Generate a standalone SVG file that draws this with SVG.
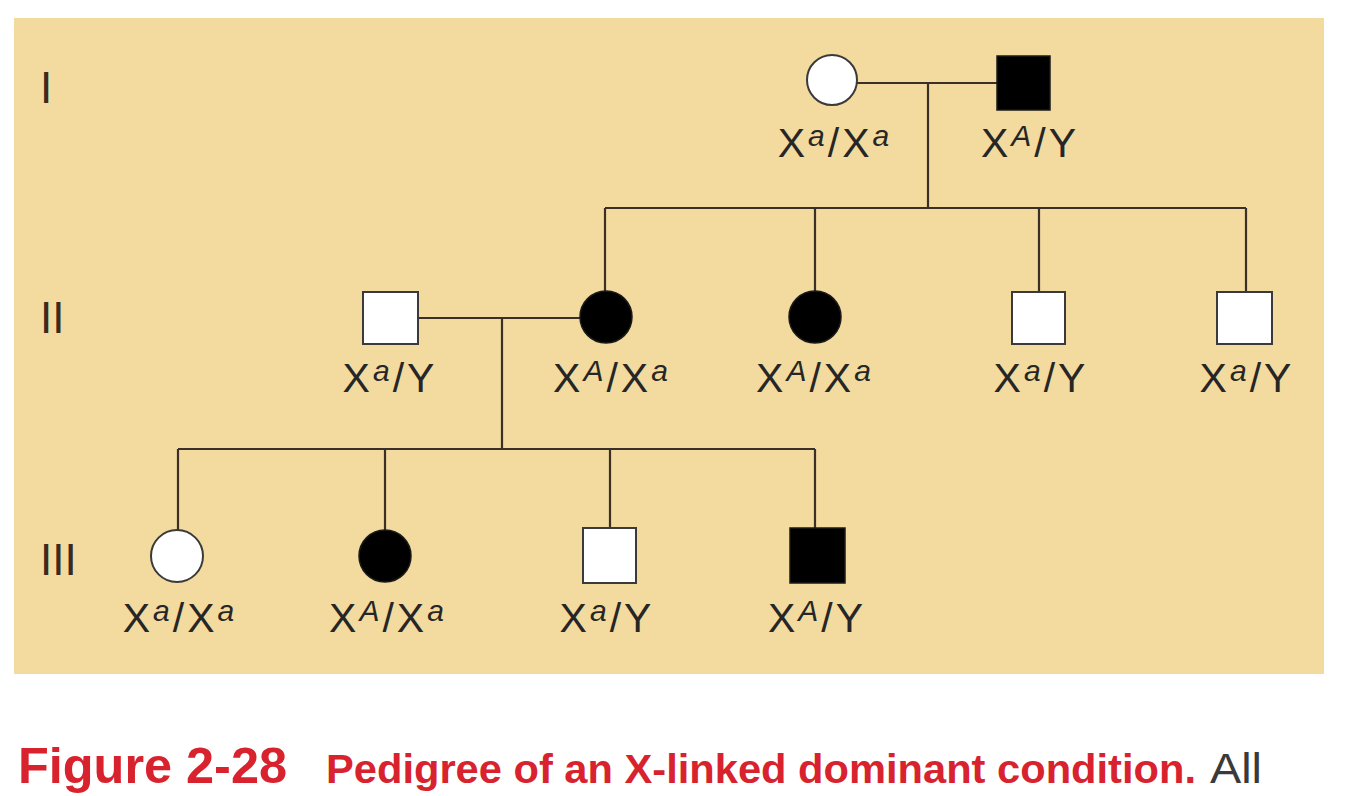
<svg xmlns="http://www.w3.org/2000/svg" width="1358" height="796" viewBox="0 0 1358 796">
<style>
.ln{stroke:#3a3028;stroke-width:2.2;fill:none}
.fo{fill:#ffffff;stroke:#3a3a3a;stroke-width:2}
.fa{fill:#000000;stroke:#1a1a1a;stroke-width:1.5}
.lb{font-family:"Liberation Sans",Arial,sans-serif;font-size:41px;fill:#262626;letter-spacing:3px;text-anchor:middle}
.sp{font-size:30px;font-style:italic}
.gen{font-family:"Liberation Sans",Arial,sans-serif;font-size:44px;fill:#3b2a20}
.cap{font-family:"Liberation Sans",Arial,sans-serif;font-weight:bold;fill:#d8232f}
.all{font-family:"Liberation Sans",Arial,sans-serif;fill:#3a3a3a}
</style>
<rect x="0" y="0" width="1358" height="796" fill="#ffffff"/>
<rect x="14" y="18" width="1310" height="656" fill="#f3da9e"/>

<g id="generations">
<text class="gen" x="40" y="103">I</text>
<text class="gen" x="40" y="333">II</text>
<text class="gen" x="40" y="575">III</text>
</g>

<g id="connectors">
<line class="ln" x1="857" y1="83" x2="997" y2="83"/>
<line class="ln" x1="928" y1="83" x2="928" y2="208"/>
<line class="ln" x1="605" y1="208" x2="1246" y2="208"/>
<line class="ln" x1="605" y1="208" x2="605" y2="291"/>
<line class="ln" x1="815" y1="208" x2="815" y2="291"/>
<line class="ln" x1="1039" y1="208" x2="1039" y2="292"/>
<line class="ln" x1="1246" y1="208" x2="1246" y2="292"/>
<line class="ln" x1="418" y1="318" x2="580" y2="318"/>
<line class="ln" x1="502" y1="318" x2="502" y2="449"/>
<line class="ln" x1="178" y1="449" x2="815" y2="449"/>
<line class="ln" x1="178" y1="449" x2="178" y2="530"/>
<line class="ln" x1="385" y1="449" x2="385" y2="530"/>
<line class="ln" x1="610" y1="449" x2="610" y2="528"/>
<line class="ln" x1="815" y1="449" x2="815" y2="528"/>
</g>

<g id="I-1">
<circle class="fo" cx="832" cy="80" r="25"/>
<text class="lb" x="835" y="157">X<tspan class="sp" dy="-11">a</tspan><tspan dy="11">/X</tspan><tspan class="sp" dy="-11">a</tspan></text>
</g>
<g id="I-2">
<rect class="fa" x="997" y="56" width="53" height="54"/>
<text class="lb" x="1030" y="157">X<tspan class="sp" dy="-11">A</tspan><tspan dy="11">/Y</tspan></text>
</g>

<g id="II-1">
<rect class="fo" x="363" y="292" width="55" height="52"/>
<text class="lb" x="390" y="392">X<tspan class="sp" dy="-11">a</tspan><tspan dy="11">/Y</tspan></text>
</g>
<g id="II-2">
<circle class="fa" cx="606" cy="317" r="26"/>
<text class="lb" x="612" y="392">X<tspan class="sp" dy="-11">A</tspan><tspan dy="11">/X</tspan><tspan class="sp" dy="-11">a</tspan></text>
</g>
<g id="II-3">
<circle class="fa" cx="815" cy="317" r="26"/>
<text class="lb" x="815" y="392">X<tspan class="sp" dy="-11">A</tspan><tspan dy="11">/X</tspan><tspan class="sp" dy="-11">a</tspan></text>
</g>
<g id="II-4">
<rect class="fo" x="1012" y="292" width="53" height="52"/>
<text class="lb" x="1041" y="392">X<tspan class="sp" dy="-11">a</tspan><tspan dy="11">/Y</tspan></text>
</g>
<g id="II-5">
<rect class="fo" x="1217" y="292" width="55" height="52"/>
<text class="lb" x="1247" y="392">X<tspan class="sp" dy="-11">a</tspan><tspan dy="11">/Y</tspan></text>
</g>

<g id="III-1">
<circle class="fo" cx="177" cy="556" r="26"/>
<text class="lb" x="180" y="632">X<tspan class="sp" dy="-11">a</tspan><tspan dy="11">/X</tspan><tspan class="sp" dy="-11">a</tspan></text>
</g>
<g id="III-2">
<circle class="fa" cx="385" cy="556" r="26"/>
<text class="lb" x="388" y="632">X<tspan class="sp" dy="-11">A</tspan><tspan dy="11">/X</tspan><tspan class="sp" dy="-11">a</tspan></text>
</g>
<g id="III-3">
<rect class="fo" x="583" y="528" width="53" height="55"/>
<text class="lb" x="607" y="632">X<tspan class="sp" dy="-11">a</tspan><tspan dy="11">/Y</tspan></text>
</g>
<g id="III-4">
<rect class="fa" x="790" y="528" width="55" height="55"/>
<text class="lb" x="817" y="632">X<tspan class="sp" dy="-11">A</tspan><tspan dy="11">/Y</tspan></text>
</g>

<g id="caption">
<text class="cap" x="18" y="783" font-size="50" textLength="269" lengthAdjust="spacingAndGlyphs">Figure 2-28</text>
<text class="cap" x="326" y="783" font-size="40" textLength="870" lengthAdjust="spacingAndGlyphs">Pedigree of an X-linked dominant condition.</text>
<text class="all" x="1210" y="783" font-size="42" textLength="52" lengthAdjust="spacingAndGlyphs">All</text>
</g>
</svg>
